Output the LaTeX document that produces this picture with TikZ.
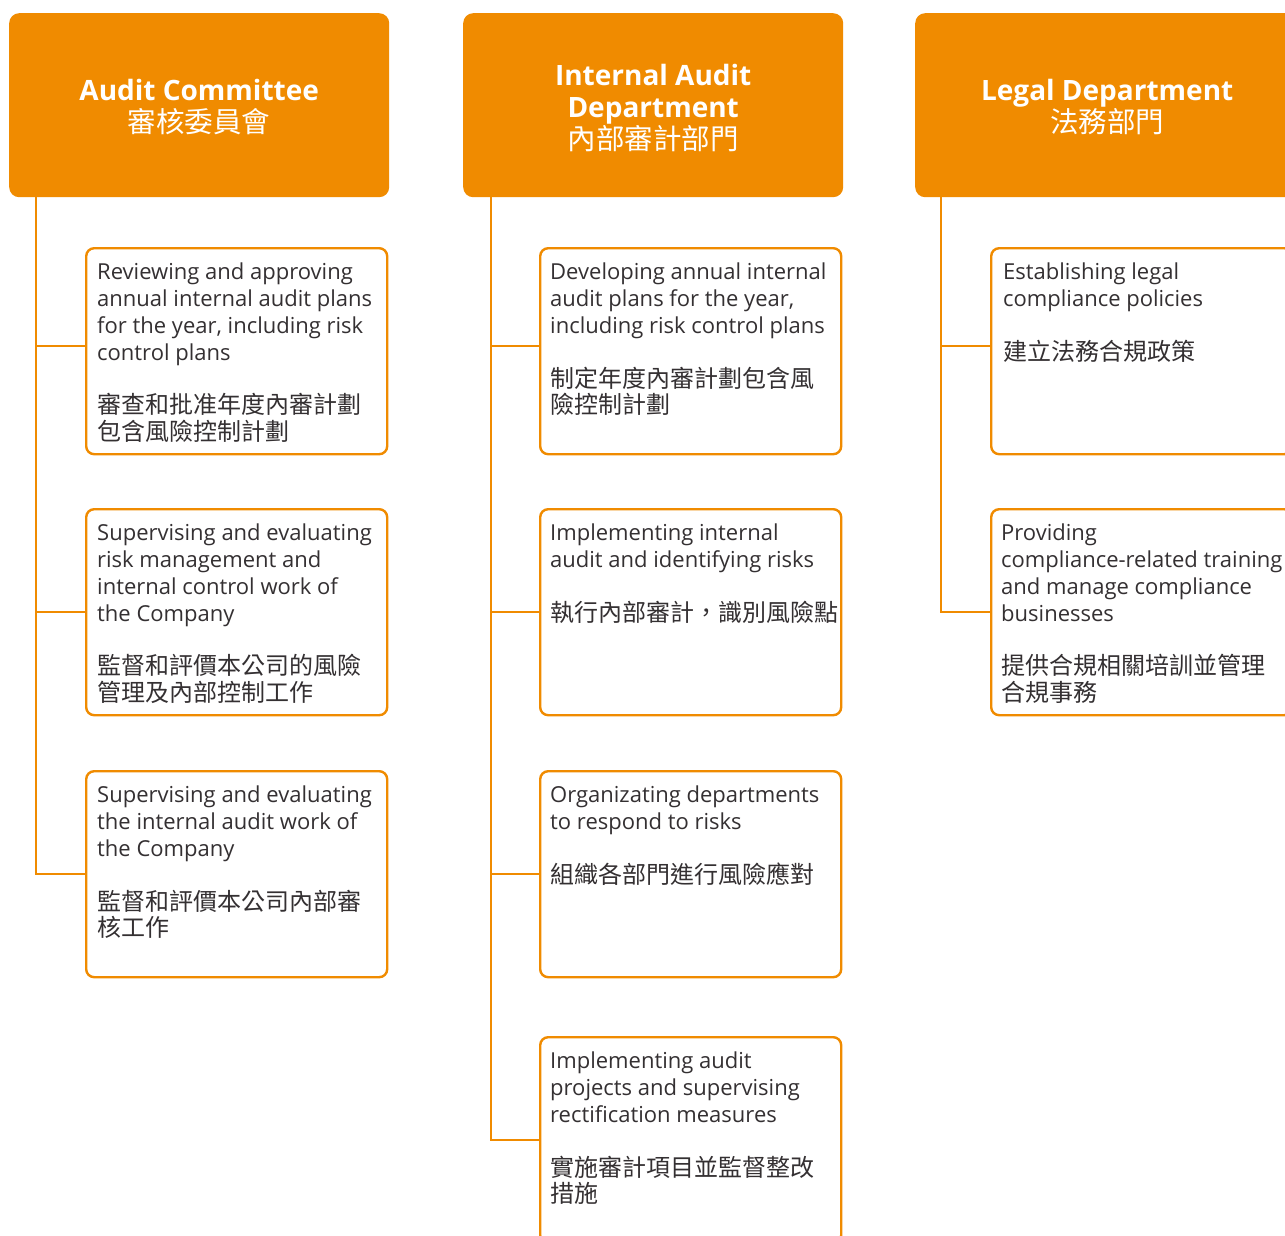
\documentclass[tikz,border=0pt]{standalone}
\usepackage{fontspec}
\setmainfont{Open Sans}
\newfontfamily\cjk{Noto Sans CJK TC}
\definecolor{brand}{RGB}{240,139,0}
\definecolor{ink}{RGB}{52,48,50}
% Chinese lines inside the duty cards
\newcommand{\zh}[1]{{\cjk\fontsize{24}{26.7}\selectfont #1}}
% Chinese lines inside the department headers
\newcommand{\zhhead}[1]{{\cjk\mdseries\fontsize{28.5}{32}\selectfont #1}}
\tikzset{
  head/.style={fill=brand, rounded corners=10pt, minimum width=380pt,
    minimum height=184pt, anchor=north west, inner sep=0pt},
  headtxt/.style={inner sep=0pt, align=center, text=white,
    font=\fontsize{28}{32}\selectfont\bfseries},
  card/.style={draw=brand, line width=2.4pt, rounded corners=8pt, fill=white,
    minimum width=301pt, minimum height=206pt, anchor=north west, inner sep=0pt},
  txt/.style={anchor=north west, inner sep=0pt, align=left, text=ink,
    font=\fontsize{22}{26.7}\selectfont},
  conn/.style={draw=brand, line width=2pt}
}
\begin{document}
\begin{tikzpicture}[x=1pt,y=-1pt]
\useasboundingbox (0,0) rectangle (1285,1236);
\clip (0,0) rectangle (1285,1236);

% department headers
\node[head] (h1) at (9,13)   {};
\node[head] (h2) at (463,13) {};
\node[head] (h3) at (915,13) {};
\node[headtxt] (ht1) at ([shift={(0,2)}]h1.center)   {Audit Committee\\\zhhead{審核委員會}};
\node[headtxt] (ht2) at ([shift={(0,3)}]h2.center)   {Internal Audit\\Department\\\zhhead{內部審計部門}};
\node[headtxt] (ht3) at ([shift={(2,2)}]h3.center)   {Legal Department\\\zhhead{法務部門}};

% Audit Committee duties
\node[card] (b11) at (85,247) {};
\node[card] (b12) at (85,508) {};
\node[card] (b13) at (85,770) {};
\node[txt] (t11) at ([shift={(12,16)}]b11.north west)
  {Reviewing and approving\\annual internal audit plans\\for the year, including risk\\control plans\\[27pt]
   \zh{審查和批准年度內審計劃}\\\zh{包含風險控制計劃}};
\node[txt] (t12) at ([shift={(12,16)}]b12.north west)
  {Supervising and evaluating\\risk management and\\internal control work of\\the Company\\[27pt]
   \zh{監督和評價本公司的風險}\\\zh{管理及內部控制工作}};
\node[txt] (t13) at ([shift={(12,16)}]b13.north west)
  {Supervising and evaluating\\the internal audit work of\\the Company\\[27pt]
   \zh{監督和評價本公司內部審}\\\zh{核工作}};

% Internal Audit Department duties
\node[card] (b21) at (539,247) {};
\node[card] (b22) at (539,508) {};
\node[card] (b23) at (539,770) {};
\node[card] (b24) at (539,1036) {};
\node[txt] (t21) at ([shift={(11,16)}]b21.north west)
  {Developing annual internal\\audit plans for the year,\\including risk control plans\\[27pt]
   \zh{制定年度內審計劃包含風}\\\zh{險控制計劃}};
\node[txt] (t22) at ([shift={(11,16)}]b22.north west)
  {Implementing internal\\audit and identifying risks\\[27pt]
   \zh{執行內部審計，識別風險點}};
\node[txt] (t23) at ([shift={(11,16)}]b23.north west)
  {Organizating departments\\to respond to risks\\[27pt]
   \zh{組織各部門進行風險應對}};
\node[txt] (t24) at ([shift={(11,16)}]b24.north west)
  {Implementing audit\\projects and supervising\\rectification measures\\[27pt]
   \zh{實施審計項目並監督整改}\\\zh{措施}};

% Legal Department duties
\node[card] (b31) at (990,247) {};
\node[card] (b32) at (990,508) {};
\node[txt] (t31) at ([shift={(13,16)}]b31.north west)
  {Establishing legal\\compliance policies\\[27pt]
   \zh{建立法務合規政策}};
\node[txt] (t32) at ([shift={(11,16)}]b32.north west)
  {Providing\\compliance-related training\\and manage compliance\\businesses\\[27pt]
   \zh{提供合規相關培訓並管理}\\\zh{合規事務}};

% joints of the top-row branches, a little above the card centres
\coordinate (j11) at ([yshift=5pt]b11.west);
\coordinate (j21) at ([yshift=5pt]b21.west);
\coordinate (j31) at ([yshift=5pt]b31.west);

% reporting lines
\draw[conn] (h1.south west) ++(27,0) coordinate (k1) -- (k1 |- b13.west) -- (b13.west);
\draw[conn] (k1 |- j11) -- (j11);
\draw[conn] (k1 |- b12.west) -- (b12.west);

\draw[conn] (h2.south west) ++(28,0) coordinate (k2) -- (k2 |- b24.west) -- (b24.west);
\draw[conn] (k2 |- j21) -- (j21);
\draw[conn] (k2 |- b22.west) -- (b22.west);
\draw[conn] (k2 |- b23.west) -- (b23.west);

\draw[conn] (h3.south west) ++(26,0) coordinate (k3) -- (k3 |- b32.west) -- (b32.west);
\draw[conn] (k3 |- j31) -- (j31);
\end{tikzpicture}
\end{document}
